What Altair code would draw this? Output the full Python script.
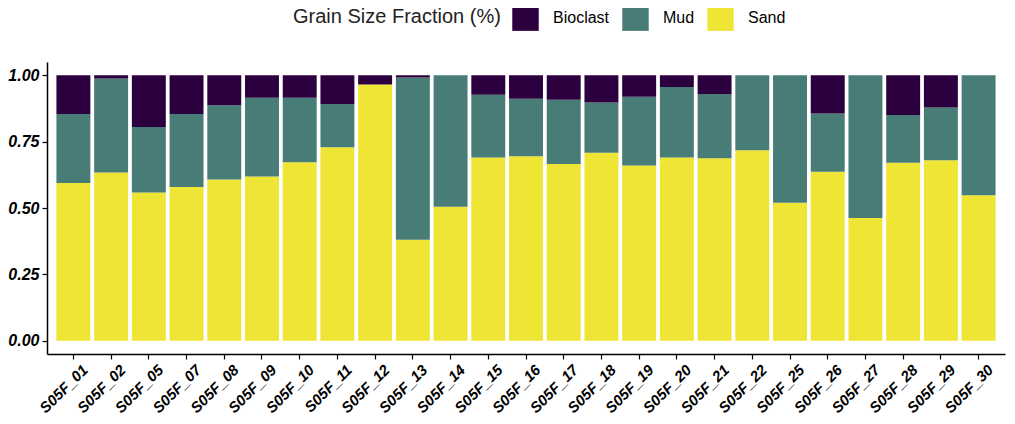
import altair as alt
import pandas as pd

samples = ["S05F_01", "S05F_02", "S05F_05", "S05F_07", "S05F_08", "S05F_09", "S05F_10",
           "S05F_11", "S05F_12", "S05F_13", "S05F_14", "S05F_15", "S05F_16", "S05F_17",
           "S05F_18", "S05F_19", "S05F_20", "S05F_21", "S05F_22", "S05F_25", "S05F_26",
           "S05F_27", "S05F_28", "S05F_29", "S05F_30"]
sand = [0.594, 0.634, 0.558, 0.579, 0.607, 0.619, 0.672, 0.729, 0.965, 0.380, 0.505, 0.690,
        0.695, 0.666, 0.708, 0.660, 0.690, 0.687, 0.718, 0.520, 0.637, 0.462, 0.670, 0.680, 0.548]
mud = [0.260, 0.354, 0.247, 0.275, 0.280, 0.296, 0.243, 0.163, 0.000, 0.612, 0.495, 0.237,
       0.217, 0.242, 0.189, 0.259, 0.266, 0.242, 0.282, 0.480, 0.219, 0.538, 0.180, 0.199, 0.452]
bioclast = [0.146, 0.012, 0.195, 0.146, 0.113, 0.085, 0.085, 0.108, 0.035, 0.008, 0.000, 0.073,
            0.088, 0.092, 0.103, 0.081, 0.044, 0.071, 0.000, 0.000, 0.144, 0.000, 0.150, 0.121, 0.000]
fractions = ["Bioclast", "Mud", "Sand"]
colors = ["#2c003e", "#487d77", "#efe535"]
stack_rank = {"Sand": 0, "Mud": 1, "Bioclast": 2}

rows = []
for i, s in enumerate(samples):
    for name, vals in (("Sand", sand), ("Mud", mud), ("Bioclast", bioclast)):
        rows.append({"sample": s, "fraction": name, "value": vals[i], "rank": stack_rank[name]})
df = pd.DataFrame(rows)

chart = alt.Chart(df).mark_bar().encode(
    x=alt.X("sample:N", sort=samples, title=None,
            scale=alt.Scale(paddingInner=0.1, paddingOuter=0.25),
            axis=alt.Axis(labelAngle=-45, labelAlign="right", labelBaseline="top",
                          labelFont="Liberation Sans", labelFontSize=15,
                          labelFontWeight="bold", labelFontStyle="italic", labelColor="black",
                          domainColor="black", domainWidth=1.5, tickColor="black",
                          tickWidth=1.2, tickSize=5, labelPadding=3, labelOffset=7,
                          grid=False)),
    y=alt.Y("value:Q", stack="zero", title=None,
            scale=alt.Scale(domain=[-0.05, 1.05], nice=False, zero=False),
            axis=alt.Axis(values=[0, 0.25, 0.5, 0.75, 1.0], format=".2f",
                          labelFont="Liberation Sans", labelFontSize=16,
                          labelFontWeight="bold", labelFontStyle="italic", labelColor="black",
                          domainColor="black", domainWidth=1.5, tickColor="black",
                          tickWidth=1.2, tickSize=5, labelPadding=3, grid=False)),
    color=alt.Color("fraction:N", scale=alt.Scale(domain=fractions, range=colors),
                    legend=alt.Legend(title="Grain Size Fraction (%)", orient="none",
                                      direction="horizontal", titleOrient="left",
                                      legendX=246, legendY=-58,
                                      symbolType="square", symbolSize=700,
                                      symbolStrokeWidth=0, symbolOpacity=1,
                                      titleFont="Liberation Sans", titleFontSize=20,
                                      titleFontWeight="normal", titleColor="#222222",
                                      titleLimit=400,
                                      labelFont="Liberation Sans", labelFontSize=16,
                                      labelColor="black", labelOffset=14,
                                      columnPadding=12, titlePadding=11)),
    order=alt.Order("rank:Q", sort="ascending"),
).properties(
    width=958, height=292,
    autosize=alt.AutoSizeParams(type="none"),
    padding={"left": 39, "top": 54, "right": 2, "bottom": 62},
).configure_view(stroke=None).configure_mark(opacity=1)

chart.save("out.html", embed_options={"renderer": "svg", "actions": False})
